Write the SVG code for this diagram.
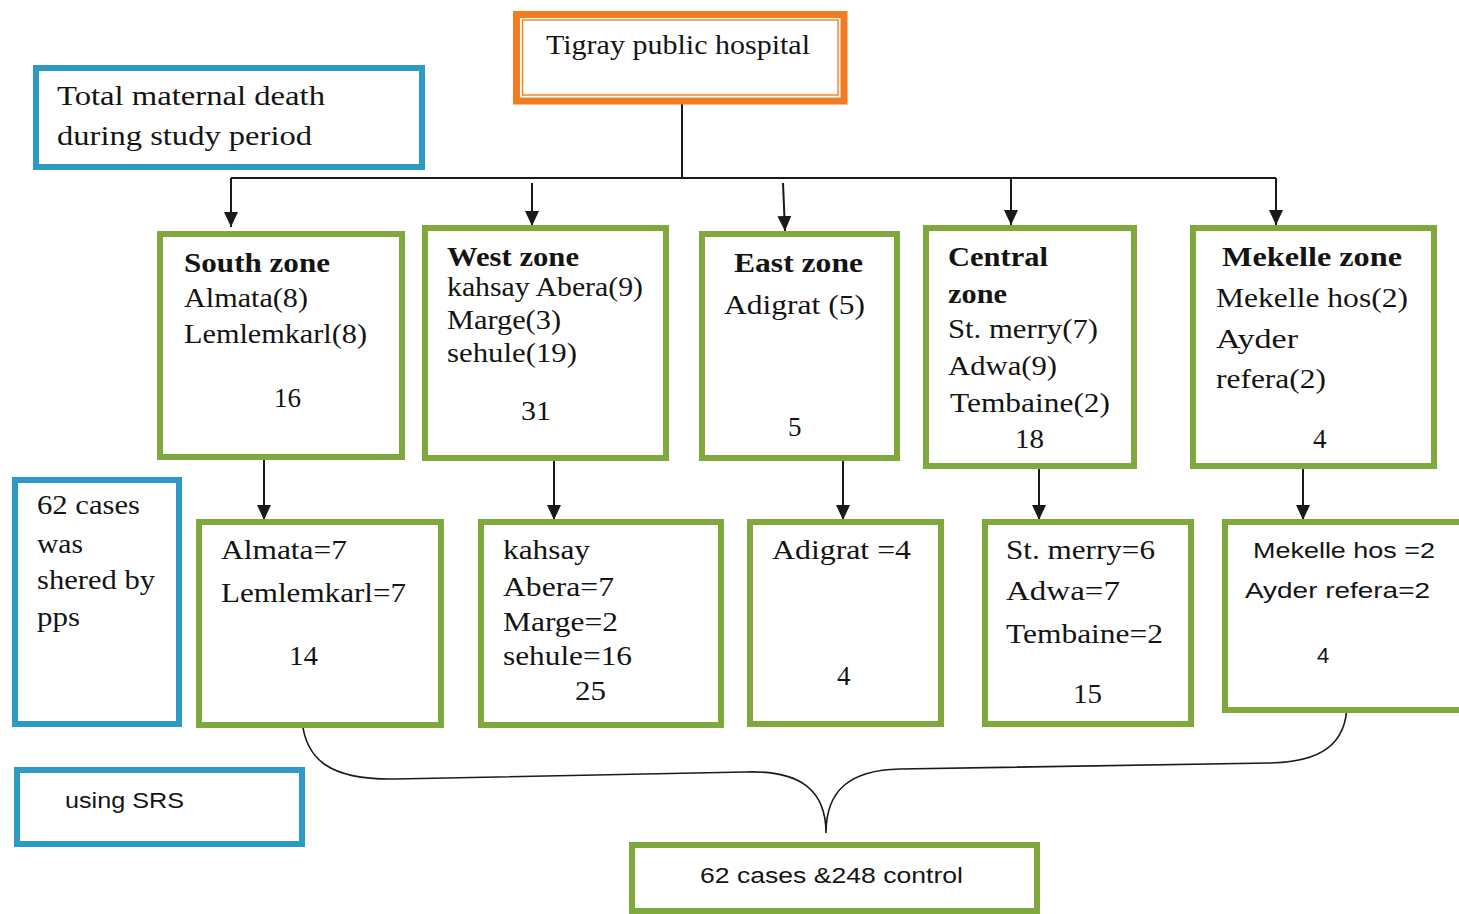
<svg xmlns="http://www.w3.org/2000/svg" width="1459" height="914" viewBox="0 0 1459 914">
<defs>
<style>
.g{fill:#fff;stroke:#80A93D;stroke-width:6}
.b{fill:#fff;stroke:#2C9AC4;stroke-width:6}
.t{font-family:"Liberation Serif",serif;font-size:27px;fill:#141414}
.tb{font-family:"Liberation Serif",serif;font-size:27px;font-weight:bold;fill:#141414}
.s{font-family:"Liberation Sans",sans-serif;font-size:22px;fill:#141414}
.ln{fill:none;stroke:#1a1a1a;stroke-width:2}
.br{fill:none;stroke:#1a1a1a;stroke-width:1.6}
</style>
<marker id="ah" markerUnits="userSpaceOnUse" markerWidth="16" markerHeight="16" viewBox="0 0 16 16" refX="15" refY="8" orient="auto">
<path d="M0,1 L15,8 L0,15 Z" fill="#1a1a1a"/>
</marker>
</defs>

<g id="connectors">
<path class="ln" d="M682,104 V178 M231,178 H1276"/>
<path class="ln" d="M231,178 V227" marker-end="url(#ah)"/>
<path class="ln" d="M532,183 V226" marker-end="url(#ah)"/>
<path class="ln" d="M783,183 L785,231" marker-end="url(#ah)"/>
<path class="ln" d="M1011,178 V225" marker-end="url(#ah)"/>
<path class="ln" d="M1276,178 V225" marker-end="url(#ah)"/>
<path class="ln" d="M264,460 V520" marker-end="url(#ah)"/>
<path class="ln" d="M554,460 V520" marker-end="url(#ah)"/>
<path class="ln" d="M843,460 V520" marker-end="url(#ah)"/>
<path class="ln" d="M1039,455 V520" marker-end="url(#ah)"/>
<path class="ln" d="M1303,469 V520" marker-end="url(#ah)"/>
<path class="br" d="M302,721 C306,760 330,780 395,779 L745,772 C800,770 826,790 826,833 C826,790 850,770 900,769 L1270,763 C1320,762 1347,745 1347,703"/>
</g>

<g id="hospital">
<rect x="516.5" y="14.5" width="327.5" height="86.5" fill="#fff" stroke="#F47C20" stroke-width="7"/>
<rect x="522.5" y="20" width="315.5" height="75" fill="none" stroke="#F47C20" stroke-width="1.4"/>
<text class="t" x="546" y="54" textLength="264" lengthAdjust="spacingAndGlyphs">Tigray public hospital</text>
</g>

<g id="total-note">
<rect class="b" x="36" y="68" width="386" height="99"/>
<text class="t" x="57" y="105" textLength="268" lengthAdjust="spacingAndGlyphs">Total maternal death</text>
<text class="t" x="57" y="145" textLength="255" lengthAdjust="spacingAndGlyphs">during study period</text>
</g>

<g id="south-zone">
<rect class="g" x="160" y="234" width="242" height="223"/>
<text class="tb" x="184" y="272" textLength="146" lengthAdjust="spacingAndGlyphs">South  zone</text>
<text class="t" x="184" y="307" textLength="124" lengthAdjust="spacingAndGlyphs">Almata(8)</text>
<text class="t" x="184" y="343" textLength="183" lengthAdjust="spacingAndGlyphs">Lemlemkarl(8)</text>
<text class="t" x="274" y="407" textLength="27" lengthAdjust="spacingAndGlyphs">16</text>
</g>

<g id="west-zone">
<rect class="g" x="425" y="228" width="241" height="230"/>
<text class="tb" x="447" y="266" textLength="132" lengthAdjust="spacingAndGlyphs">West zone</text>
<text class="t" x="447" y="296" textLength="196" lengthAdjust="spacingAndGlyphs">kahsay Abera(9)</text>
<text class="t" x="447" y="329" textLength="114" lengthAdjust="spacingAndGlyphs">Marge(3)</text>
<text class="t" x="447" y="362" textLength="130" lengthAdjust="spacingAndGlyphs">sehule(19)</text>
<text class="t" x="521" y="420" textLength="30" lengthAdjust="spacingAndGlyphs">31</text>
</g>

<g id="east-zone">
<rect class="g" x="702" y="234" width="195" height="224"/>
<text class="tb" x="734" y="272" textLength="129" lengthAdjust="spacingAndGlyphs">East zone</text>
<text class="t" x="724" y="314" textLength="141" lengthAdjust="spacingAndGlyphs">Adigrat (5)</text>
<text class="t" x="788" y="436">5</text>
</g>

<g id="central-zone">
<rect class="g" x="926" y="228" width="208" height="238"/>
<text class="tb" x="948" y="266" textLength="100" lengthAdjust="spacingAndGlyphs">Central</text>
<text class="tb" x="948" y="303" textLength="59" lengthAdjust="spacingAndGlyphs">zone</text>
<text class="t" x="948" y="338" textLength="150" lengthAdjust="spacingAndGlyphs">St. merry(7)</text>
<text class="t" x="948" y="375" textLength="109" lengthAdjust="spacingAndGlyphs">Adwa(9)</text>
<text class="t" x="950" y="412" textLength="160" lengthAdjust="spacingAndGlyphs">Tembaine(2)</text>
<text class="t" x="1015" y="448" textLength="29" lengthAdjust="spacingAndGlyphs">18</text>
</g>

<g id="mekelle-zone">
<rect class="g" x="1193" y="228" width="241" height="238"/>
<text class="tb" x="1222" y="266" textLength="180" lengthAdjust="spacingAndGlyphs">Mekelle  zone</text>
<text class="t" x="1216" y="307" textLength="192" lengthAdjust="spacingAndGlyphs">Mekelle hos(2)</text>
<text class="t" x="1216" y="348" textLength="82" lengthAdjust="spacingAndGlyphs">Ayder</text>
<text class="t" x="1216" y="388" textLength="110" lengthAdjust="spacingAndGlyphs">refera(2)</text>
<text class="t" x="1313" y="448">4</text>
</g>

<g id="pps-note">
<rect class="b" x="15" y="480" width="164" height="244"/>
<text class="t" x="37" y="514" textLength="103" lengthAdjust="spacingAndGlyphs">62 cases</text>
<text class="t" x="37" y="553" textLength="46" lengthAdjust="spacingAndGlyphs">was</text>
<text class="t" x="37" y="589" textLength="118" lengthAdjust="spacingAndGlyphs">shered by</text>
<text class="t" x="37" y="626" textLength="43" lengthAdjust="spacingAndGlyphs">pps</text>
</g>

<g id="south-sample">
<rect class="g" x="199" y="522" width="242" height="203"/>
<text class="t" x="221" y="559" textLength="126" lengthAdjust="spacingAndGlyphs">Almata=7</text>
<text class="t" x="221" y="602" textLength="185" lengthAdjust="spacingAndGlyphs">Lemlemkarl=7</text>
<text class="t" x="289" y="665" textLength="29" lengthAdjust="spacingAndGlyphs">14</text>
</g>

<g id="west-sample">
<rect class="g" x="481" y="522" width="240" height="203"/>
<text class="t" x="503" y="559" textLength="87" lengthAdjust="spacingAndGlyphs">kahsay</text>
<text class="t" x="503" y="596" textLength="111" lengthAdjust="spacingAndGlyphs">Abera=7</text>
<text class="t" x="503" y="631" textLength="115" lengthAdjust="spacingAndGlyphs">Marge=2</text>
<text class="t" x="503" y="665" textLength="129" lengthAdjust="spacingAndGlyphs">sehule=16</text>
<text class="t" x="575" y="700" textLength="31" lengthAdjust="spacingAndGlyphs">25</text>
</g>

<g id="east-sample">
<rect class="g" x="750" y="522" width="191" height="202"/>
<text class="t" x="772" y="559" textLength="139" lengthAdjust="spacingAndGlyphs">Adigrat =4</text>
<text class="t" x="837" y="685">4</text>
</g>

<g id="central-sample">
<rect class="g" x="985" y="522" width="206" height="202"/>
<text class="t" x="1006" y="559" textLength="149" lengthAdjust="spacingAndGlyphs">St. merry=6</text>
<text class="t" x="1006" y="600" textLength="114" lengthAdjust="spacingAndGlyphs">Adwa=7</text>
<text class="t" x="1006" y="643" textLength="157" lengthAdjust="spacingAndGlyphs">Tembaine=2</text>
<text class="t" x="1073" y="703" textLength="29" lengthAdjust="spacingAndGlyphs">15</text>
</g>

<g id="mekelle-sample">
<rect class="g" x="1225" y="522" width="250" height="188"/>
<text class="s" x="1253" y="558" textLength="182" lengthAdjust="spacingAndGlyphs">Mekelle hos =2</text>
<text class="s" x="1245" y="598" textLength="185" lengthAdjust="spacingAndGlyphs">Ayder refera=2</text>
<text class="s" x="1317" y="663">4</text>
</g>

<g id="srs-note">
<rect class="b" x="17" y="770" width="285" height="74"/>
<text class="s" x="65" y="808" textLength="119" lengthAdjust="spacingAndGlyphs">using SRS</text>
</g>

<g id="total-sample">
<rect class="g" x="632" y="845" width="405" height="66"/>
<text class="s" x="700" y="883" textLength="263" lengthAdjust="spacingAndGlyphs">62 cases &amp;248 control</text>
</g>
</svg>
